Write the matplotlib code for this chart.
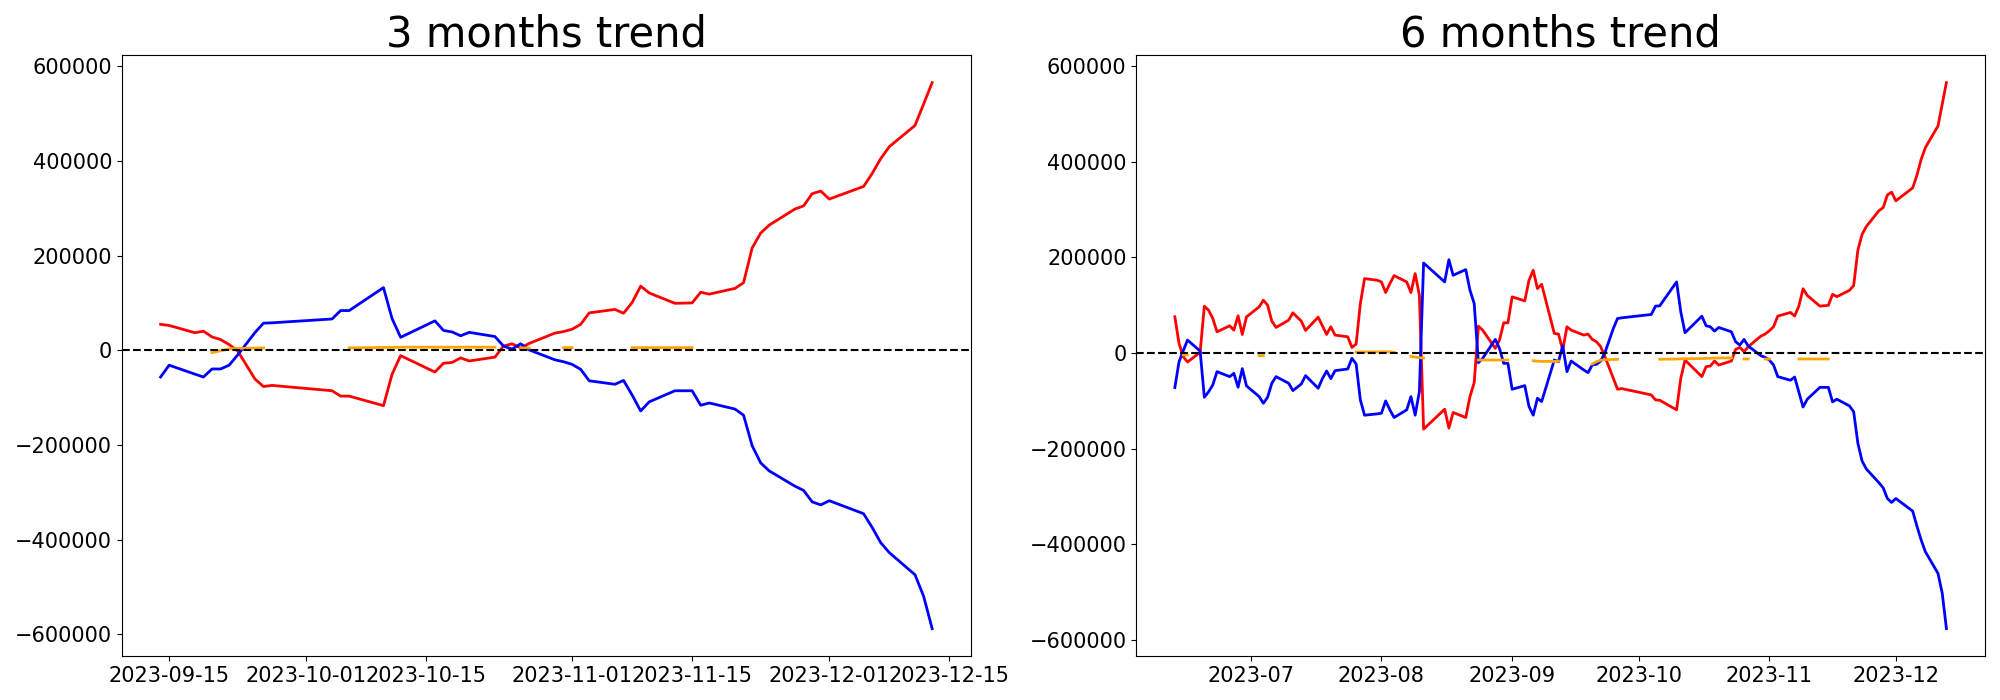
import matplotlib
matplotlib.use("Agg")
import matplotlib.pyplot as plt
import numpy as np
import pandas as pd

nan = np.nan

# 3 months window
l_dates = ["2023-09-14", "2023-09-15", "2023-09-18", "2023-09-19", "2023-09-20", "2023-09-21",
           "2023-09-22", "2023-09-23", "2023-09-25", "2023-09-26", "2023-09-27", "2023-10-04",
           "2023-10-05", "2023-10-06", "2023-10-10", "2023-10-11", "2023-10-12", "2023-10-16",
           "2023-10-17", "2023-10-18", "2023-10-19", "2023-10-20", "2023-10-23", "2023-10-24",
           "2023-10-25", "2023-10-26", "2023-10-27", "2023-10-30", "2023-10-31", "2023-11-01",
           "2023-11-02", "2023-11-03", "2023-11-06", "2023-11-07", "2023-11-08", "2023-11-09",
           "2023-11-10", "2023-11-13", "2023-11-15", "2023-11-16", "2023-11-17", "2023-11-20",
           "2023-11-21", "2023-11-22", "2023-11-23", "2023-11-24", "2023-11-27", "2023-11-28",
           "2023-11-29", "2023-11-30", "2023-12-01", "2023-12-05", "2023-12-06", "2023-12-07",
           "2023-12-08", "2023-12-11", "2023-12-12", "2023-12-13"]
l_red = [54800, 52400, 37100, 40300, 28200, 22600, 12100, -1600, -60500, -76600, -74200, -85500,
         -96800, -96800, -117000, -50800, -11300, -46000, -27400, -25800, -16100, -22600, -14500, 8900,
         13700, 4800, 14500, 36300, 39500, 44400, 54800, 79000, 86300, 78200, 100800, 135500,
         121000, 99200, 100000, 122600, 118600, 130700, 142700, 216100, 247600, 264500, 298400, 304900,
         330700, 336300, 319400, 346000, 373400, 404900, 430000, 475000, 520000, 565400]
l_blue = [-56500, -31500, -50400, -56500, -39500, -39500, -31500, -9700, 37100, 57300, 58000, 66100,
          83900, 83900, 132300, 67000, 27400, 62100, 41900, 38700, 30600, 37900, 29000, 8900,
          2400, 13700, 800, -20200, -24200, -29800, -40300, -64500, -71800, -63700, -94400, -128200,
          -108900, -85500, -85500, -116100, -111300, -124200, -137100, -201600, -237900, -254900, -287100, -296000,
          -320200, -326600, -317800, -345200, -374200, -406500, -427400, -474200, -519400, -587900]
l_orange = [nan, nan, nan, nan, -5000, -1000, 3000, 4000, 4500, 5000, nan, nan,
            nan, 5000, 6000, 6000, 6500, 6500, 6500, 6500, 6500, 6500, 6500, nan,
            nan, 5000, 5000, nan, 5600, 5600, nan, nan, nan, nan, 5600, 5600,
            5600, 5600, 5600, nan, nan, nan, nan, nan, nan, nan, nan, nan,
            nan, nan, nan, nan, nan, nan, nan, nan, nan, nan]

# 6 months window
r_dates = ["2023-06-13", "2023-06-14", "2023-06-15", "2023-06-16", "2023-06-19", "2023-06-20",
           "2023-06-21", "2023-06-22", "2023-06-23", "2023-06-26", "2023-06-27", "2023-06-28",
           "2023-06-29", "2023-06-30", "2023-07-03", "2023-07-04", "2023-07-05", "2023-07-06",
           "2023-07-07", "2023-07-10", "2023-07-11", "2023-07-13", "2023-07-14", "2023-07-17",
           "2023-07-18", "2023-07-19", "2023-07-20", "2023-07-21", "2023-07-24", "2023-07-25",
           "2023-07-26", "2023-07-27", "2023-07-28", "2023-07-31", "2023-08-01", "2023-08-02",
           "2023-08-03", "2023-08-04", "2023-08-07", "2023-08-08", "2023-08-09", "2023-08-10",
           "2023-08-11", "2023-08-16", "2023-08-17", "2023-08-18", "2023-08-21", "2023-08-22",
           "2023-08-23", "2023-08-24", "2023-08-25", "2023-08-28", "2023-08-29", "2023-08-30",
           "2023-08-31", "2023-09-01", "2023-09-04", "2023-09-05", "2023-09-06", "2023-09-07",
           "2023-09-08", "2023-09-11", "2023-09-12", "2023-09-13", "2023-09-14", "2023-09-15",
           "2023-09-18", "2023-09-19", "2023-09-20", "2023-09-21", "2023-09-22", "2023-09-23",
           "2023-09-25", "2023-09-26", "2023-09-27", "2023-10-04", "2023-10-05", "2023-10-06",
           "2023-10-10", "2023-10-11", "2023-10-12", "2023-10-16", "2023-10-17", "2023-10-18",
           "2023-10-19", "2023-10-20", "2023-10-23", "2023-10-24", "2023-10-25", "2023-10-26",
           "2023-10-27", "2023-10-30", "2023-10-31", "2023-11-01", "2023-11-02", "2023-11-03",
           "2023-11-06", "2023-11-07", "2023-11-08", "2023-11-09", "2023-11-10", "2023-11-13",
           "2023-11-15", "2023-11-16", "2023-11-17", "2023-11-20", "2023-11-21", "2023-11-22",
           "2023-11-23", "2023-11-24", "2023-11-27", "2023-11-28", "2023-11-29", "2023-11-30",
           "2023-12-01", "2023-12-05", "2023-12-06", "2023-12-07", "2023-12-08", "2023-12-11",
           "2023-12-12", "2023-12-13"]
r_red = [75700, 20100, -7600, -18700, 1400, 97900,
         89600, 72200, 44400, 56900, 47900, 77800,
         38900, 75700, 96500, 110400, 100000, 66700,
         53500, 68700, 84000, 66700, 47200, 75000,
         56900, 38900, 54900, 37500, 34000, 11800,
         18700, 103500, 155600, 152100, 148600, 126400,
         145100, 161800, 148600, 126400, 166000, 120800,
         -159000, -117400, -156900, -124300, -134700, -91000,
         -61800, 56200, 47900, 9700, 27100, 63200,
         63200, 117400, 109000, 152100, 172900, 134700,
         143700, 41000, 39600, 6200, 54900, 47900,
         37500, 39600, 28500, 23600, 13200, -7600,
         -52800, -75700, -74300, -87500, -97900, -98600,
         -118700, -52800, -14600, -49300, -28500, -27100,
         -16700, -25000, -16700, 7600, 11800, 2800,
         13200, 35400, 39600, 46500, 54900, 77100,
         84800, 77400, 98000, 134300, 120300, 98000,
         99700, 122700, 117800, 131000, 140900, 215000,
         247900, 264400, 297400, 303900, 330300, 336100,
         318000, 345100, 371500, 404400, 429100, 474500,
         519800, 565100]
r_blue = [-72200, -18100, 4900, 27100, 4200, -92400,
          -81200, -66700, -38900, -49300, -42400, -71500,
          -32600, -68700, -91000, -104900, -92400, -63200,
          -49300, -63200, -78500, -64600, -47200, -73600,
          -53500, -37500, -53500, -36800, -33300, -11100,
          -22900, -97900, -129900, -127100, -125700, -100000,
          -118700, -134700, -118700, -91000, -129900, -80600,
          188200, 148600, 195100, 162500, 174300, 131200,
          103500, -20100, -11100, 28500, 9700, -21500,
          -21500, -75700, -68100, -111800, -129900, -94400,
          -101400, -14600, -18100, 15300, -38900, -16700,
          -35400, -41000, -25000, -23600, -16700, 700,
          51400, 72200, 73600, 80600, 97900, 98600,
          148600, 86100, 42400, 77100, 56900, 54900,
          45800, 53500, 44400, 23600, 16700, 28500,
          14600, -5600, -9000, -14600, -25000, -49300,
          -56800, -50200, -81500, -112800, -96400, -71700,
          -71700, -102100, -96400, -110400, -122700, -188600,
          -225700, -242200, -271000, -281700, -303900, -312200,
          -303900, -330300, -361600, -390400, -415100, -460400,
          -501600, -575800]
r_orange = [nan, nan, -4000, -4000, nan, nan,
            nan, nan, nan, nan, nan, nan,
            nan, nan, -5600, -5600, nan, nan,
            nan, nan, nan, nan, nan, nan,
            nan, nan, nan, nan, nan, nan,
            2000, 2000, 2500, 2500, 2500, 2800,
            2500, 1500, nan, -7000, -8500, -10000,
            -10000, nan, nan, nan, nan, nan,
            nan, -14600, -14600, -14600, -14600, -14600,
            -14600, nan, nan, nan, -16000, -17000,
            -17500, -17500, -17000, nan, nan, nan,
            nan, nan, -23000, -18000, -15000, -14000,
            -13500, -13000, nan, nan, nan, -13000,
            -12500, -12000, -12000, -11500, -11000, -11000,
            -10500, -10500, -10000, nan, nan, -12500,
            -12500, nan, -12500, -12500, nan, nan,
            nan, nan, -12400, -12400, -12400, -12400,
            -12400, nan, nan, nan, nan, nan,
            nan, nan, nan, nan, nan, nan,
            nan, nan, nan, nan, nan, nan,
            nan, nan]

panels = [("3 months trend", l_dates, l_red, l_blue, l_orange),
          ("6 months trend", r_dates, r_red, r_blue, r_orange)]

fig, axes = plt.subplots(1, 2, figsize=(20, 7), dpi=100)
for ax, (title, dates, red, blue, orange) in zip(axes, panels):
    d = pd.to_datetime(dates)
    ax.plot(d, red, color="red", linewidth=2)
    ax.plot(d, blue, color="blue", linewidth=2)
    ax.plot(d, orange, color="orange", linewidth=2)
    ax.axhline(0, color="black", linestyle="--", linewidth=1.5)
    ax.set_title(title, fontsize=30)
    ax.tick_params(labelsize=15)

fig.subplots_adjust(left=0.061, right=0.9925, bottom=0.063, top=0.921, wspace=0.195)
fig.savefig("out.png")
